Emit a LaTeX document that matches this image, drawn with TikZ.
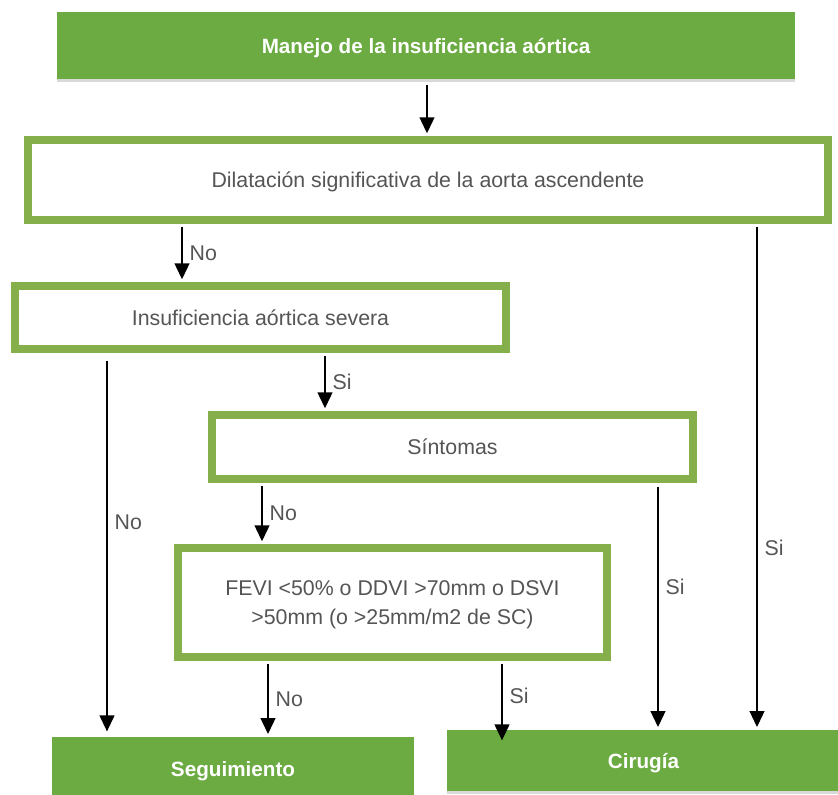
\documentclass[tikz,border=0pt]{standalone}
\usepackage{fontspec}
\setmainfont{Liberation Sans}
\usetikzlibrary{arrows.meta,positioning,shadows}

\definecolor{verde}{HTML}{84AF4A}
\definecolor{relleno}{HTML}{6BAB42}
\definecolor{texto}{HTML}{555555}

\tikzset{
  caja/.style={draw=verde,line width=6pt,fill=white,text=texto,font=\fontsize{16}{21.75}\selectfont,align=center,inner sep=0pt,text depth=0pt},
  final/.style={fill=relleno,text=white,font=\bfseries\fontsize{15.5}{18}\selectfont,inner sep=0pt,text depth=0pt,drop shadow={opacity=0.3,shadow xshift=0pt,shadow yshift=-2.5pt}},
  flecha/.style={line width=1.6pt,-{Triangle[length=12pt,width=11pt]},shorten <=2pt,shorten >=2pt},
  etiq/.style={text=texto,font=\fontsize{16}{18}\selectfont,right,inner sep=5pt}
}

\begin{document}
\begin{tikzpicture}[x=0.75pt,y=-0.75pt]
		\useasboundingbox (0,0) rectangle (838,794);

		% cajas
		\node[final,minimum width=553.5pt,minimum height=50.25pt] (tit) at (426,45.5) {Manejo de la insuficiencia aórtica};
		\node[caja,minimum width=600pt,minimum height=60pt] (dil) at (428,180) {Dilatación significativa de la aorta ascendente};
		\node[caja,minimum width=368.25pt,minimum height=47.25pt] (ins) at (260.5,317.5) {Insuficiencia aórtica severa};
		\node[caja,minimum width=360.75pt,minimum height=48pt] (sin) at (452.5,447) {Síntomas};
		\node[caja,minimum width=321.75pt,minimum height=81.75pt] (fevi) at (392.5,602.5) {FEVI <50\% o DDVI >70mm o DSVI\\>50mm (o >25mm/m2 de SC)};
		\node[final,minimum width=271.5pt,minimum height=47.25pt] (seg) at (233,768.5) {Seguimiento};
		\node[final,minimum width=294.75pt,minimum height=45.75pt] (cir) at (643.5,760.5) {Cirugía};

		% columnas de las flechas
		\coordinate (c0) at (427,0);
		\coordinate (c1) at (182,0);
		\coordinate (c2) at (325,0);
		\coordinate (c3) at (107,0);
		\coordinate (c4) at (262,0);
		\coordinate (c5) at (658,0);
		\coordinate (c6) at (757,0);
		\coordinate (c7) at (268,0);
		\coordinate (c8) at (502,0);

		% flechas
		\draw[flecha,shorten <=4pt] (tit.south -| c0) -- (dil.north -| c0);
		\draw[flecha] (dil.south -| c1) -- node[etiq] {No} (ins.north -| c1);
		\draw[flecha] (ins.south -| c2) -- node[etiq] {Si} (sin.north -| c2);
		\draw[flecha,shorten <=6pt,shorten >=4pt] (ins.south -| c3) -- node[etiq,pos=0.44] {No} (seg.north -| c3);
		\draw[flecha] (sin.south -| c4) -- node[etiq] {No} (fevi.north -| c4);
		\draw[flecha,shorten <=3pt] (sin.south -| c5) -- node[etiq,pos=0.42] {Si} (cir.north -| c5);
		\draw[flecha] (dil.south -| c6) -- node[etiq,pos=0.64] {Si} (cir.north -| c6);
		\draw[flecha] (fevi.south -| c7) -- node[etiq] {No} (seg.north -| c7);
		\draw[flecha,shorten >=-8pt] (fevi.south -| c8) -- node[etiq] {Si} (cir.north -| c8);

		\end{tikzpicture}
\end{document}
